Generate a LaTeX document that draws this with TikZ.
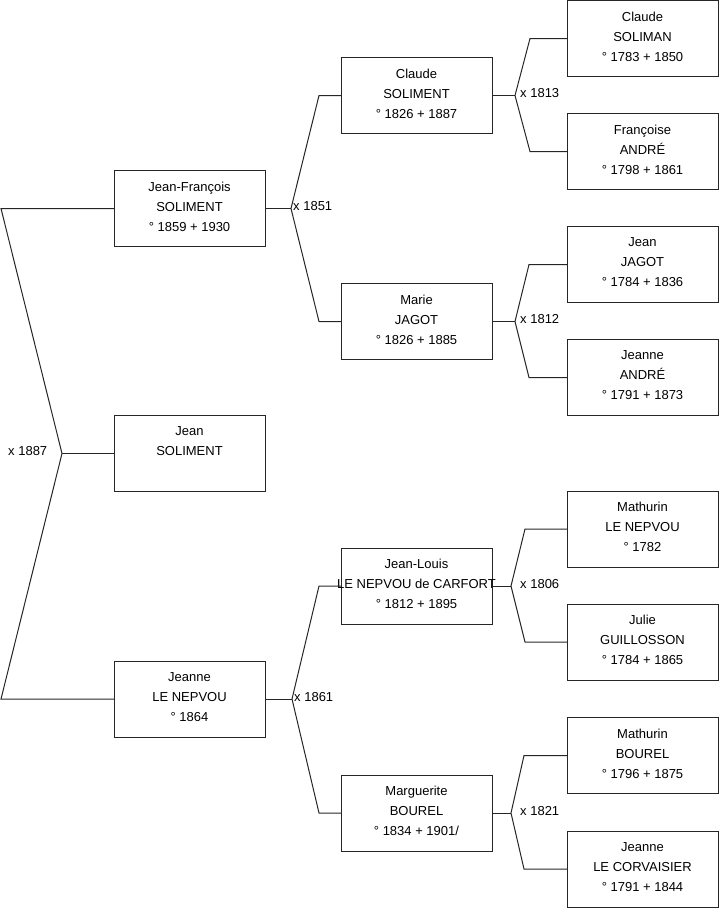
\documentclass[tikz,border=0pt]{standalone}
\usepackage{fontspec}
\setmainfont{Liberation Sans}
\tikzset{
  person/.style={
    draw=black!85,
    fill=white,
    minimum width=151pt,
    minimum height=76pt,
    inner sep=0pt,
    text depth=4pt,
    align=center,
    font=\fontsize{13}{20}\selectfont
  },
  forkline/.style={
    draw=black!85,
    line width=1pt
  },
  wedding/.style={
    font=\fontsize{13}{15}\selectfont,
    inner sep=0pt,
    anchor=west,
    yshift=2pt
  }
}

\begin{document}
\begin{tikzpicture}[x=1pt,y=-1pt]
  \useasboundingbox (0,0) rectangle (719,908);

  % generation 1
  \node[person] (jfsol) at (189.5,208.5) {Jean-François\\SOLIMENT\\° 1859 + 1930};
  \node[person] (jeansol) at (189.5,453.5) {Jean\\SOLIMENT\\\mbox{}};
  \node[person] (jeannelen) at (189.5,699) {Jeanne\\LE NEPVOU\\° 1864};

  % generation 2
  \node[person] (claudesol) at (416.5,95.5) {Claude\\SOLIMENT\\° 1826 + 1887};
  \node[person] (mariejag) at (416.5,321.5) {Marie\\JAGOT\\° 1826 + 1885};
  \node[person] (jlouis) at (416.5,586) {Jean-Louis\\\makebox[0pt]{LE NEPVOU de CARFORT}\\° 1812 + 1895};
  \node[person] (marguerite) at (416.5,813) {Marguerite\\BOUREL\\° 1834 + 1901/};

  % generation 3
  \node[person] (claudesolim) at (642.5,38.5) {Claude\\SOLIMAN\\° 1783 + 1850};
  \node[person] (francoise) at (642.5,151.5) {Françoise\\ANDRÉ\\° 1798 + 1861};
  \node[person] (jeanjag) at (642.5,264.5) {Jean\\JAGOT\\° 1784 + 1836};
  \node[person] (jeanneand) at (642.5,377.5) {Jeanne\\ANDRÉ\\° 1791 + 1873};
  \node[person] (mathlen) at (642.5,529) {Mathurin\\LE NEPVOU\\° 1782};
  \node[person] (julie) at (642.5,642) {Julie\\GUILLOSSON\\° 1784 + 1865};
  \node[person] (mathbou) at (642.5,755.5) {Mathurin\\BOUREL\\° 1796 + 1875};
  \node[person] (jeannecor) at (642.5,869) {Jeanne\\LE CORVAISIER\\° 1791 + 1844};

  % x 1887
  \coordinate (t1887) at (1,208.5);
  \coordinate (v1887) at (62,453.5);
  \coordinate (b1887) at (1,699);
  \draw[forkline] (jfsol.west) -- (t1887) -- (v1887) -- (b1887) -- (jeannelen.west);
  \draw[forkline] (v1887) -- (jeansol.west);
  \node[wedding] (m1887) at (8,453.5) {x 1887};

  % x 1851
  \coordinate (v1851) at (291,208.5);
  \coordinate (t1851) at (319,95.5);
  \coordinate (b1851) at (319,321.5);
  \draw[forkline] (jfsol.east) -- (v1851);
  \draw[forkline] (claudesol.west) -- (t1851) -- (v1851) -- (b1851) -- (mariejag.west);
  \node[wedding] (m1851) at (293,208.5) {x 1851};

  % x 1861
  \coordinate (v1861) at (292,699);
  \coordinate (t1861) at (319,586);
  \coordinate (b1861) at (319,813);
  \draw[forkline] (jeannelen.east) -- (v1861);
  \draw[forkline] (jlouis.west) -- (t1861) -- (v1861) -- (b1861) -- (marguerite.west);
  \node[wedding] (m1861) at (294,699) {x 1861};

  % x 1813
  \coordinate (v1813) at (515,95.5);
  \coordinate (t1813) at (530,38.5);
  \coordinate (b1813) at (530,151.5);
  \draw[forkline] (claudesol.east) -- (v1813);
  \draw[forkline] (claudesolim.west) -- (t1813) -- (v1813) -- (b1813) -- (francoise.west);
  \node[wedding] (m1813) at (520,95.5) {x 1813};

  % x 1812
  \coordinate (v1812) at (515,321.5);
  \coordinate (t1812) at (529,264.5);
  \coordinate (b1812) at (529,377.5);
  \draw[forkline] (mariejag.east) -- (v1812);
  \draw[forkline] (jeanjag.west) -- (t1812) -- (v1812) -- (b1812) -- (jeanneand.west);
  \node[wedding] (m1812) at (520,321.5) {x 1812};

  % x 1806
  \coordinate (v1806) at (511,586);
  \coordinate (t1806) at (525,529);
  \coordinate (b1806) at (525,642);
  \draw[forkline] (jlouis.east) -- (v1806);
  \draw[forkline] (mathlen.west) -- (t1806) -- (v1806) -- (b1806) -- (julie.west);
  \node[wedding] (m1806) at (520,586) {x 1806};

  % x 1821
  \coordinate (v1821) at (511,813);
  \coordinate (t1821) at (524,755.5);
  \coordinate (b1821) at (524,869);
  \draw[forkline] (marguerite.east) -- (v1821);
  \draw[forkline] (mathbou.west) -- (t1821) -- (v1821) -- (b1821) -- (jeannecor.west);
  \node[wedding] (m1821) at (520,813) {x 1821};
\end{tikzpicture}
\end{document}
